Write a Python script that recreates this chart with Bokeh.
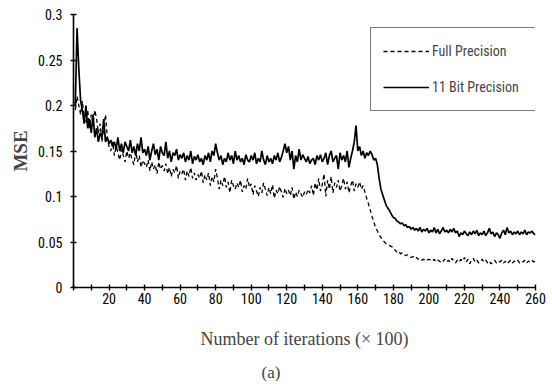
from bokeh.plotting import figure
from bokeh.models import FixedTicker, Legend, LegendItem, Title
from bokeh.embed import file_html
from bokeh.resources import INLINE

# iteration index (x 100)
iterations = list(range(1, 261))

bit11_precision = [
    0.200, 0.285, 0.240, 0.205, 0.195, 0.180, 0.200, 0.175, 0.185, 0.170,
    0.190, 0.165, 0.175, 0.160, 0.170, 0.165, 0.185, 0.160, 0.165, 0.158,
    0.162, 0.155, 0.160, 0.152, 0.165, 0.150, 0.158, 0.148, 0.160, 0.155,
    0.150, 0.162, 0.148, 0.155, 0.145, 0.158, 0.150, 0.165, 0.148, 0.152,
    0.145, 0.155, 0.140, 0.150, 0.158, 0.146, 0.152, 0.140, 0.155, 0.148,
    0.145, 0.160, 0.142, 0.150, 0.138, 0.148, 0.145, 0.152, 0.140, 0.146,
    0.142, 0.148, 0.138, 0.145, 0.140, 0.150, 0.136, 0.144, 0.140, 0.146,
    0.138, 0.142, 0.135, 0.145, 0.140, 0.148, 0.138, 0.150, 0.145, 0.158,
    0.148, 0.140, 0.145, 0.135, 0.142, 0.138, 0.148, 0.140, 0.145, 0.136,
    0.150, 0.140, 0.145, 0.138, 0.142, 0.135, 0.146, 0.140, 0.138, 0.145,
    0.140, 0.148, 0.136, 0.142, 0.138, 0.150, 0.140, 0.135, 0.145, 0.138,
    0.142, 0.136, 0.145, 0.140, 0.148, 0.138, 0.143, 0.150, 0.158, 0.148,
    0.155, 0.140, 0.150, 0.130, 0.145, 0.138, 0.152, 0.140, 0.146, 0.142,
    0.138, 0.144, 0.136, 0.140, 0.142, 0.135, 0.145, 0.140, 0.146, 0.138,
    0.142, 0.148, 0.135, 0.145, 0.150, 0.138, 0.142, 0.145, 0.130, 0.148,
    0.140, 0.145, 0.138, 0.150, 0.132, 0.142, 0.150, 0.160, 0.178, 0.150,
    0.155, 0.145, 0.150, 0.142, 0.148, 0.145, 0.150, 0.146, 0.140, 0.142,
    0.135, 0.120, 0.108, 0.102, 0.096, 0.090, 0.087, 0.084, 0.080, 0.077,
    0.076, 0.073, 0.072, 0.070, 0.071, 0.068, 0.069, 0.066, 0.067, 0.064,
    0.066, 0.063, 0.065, 0.062, 0.066, 0.061, 0.064, 0.062, 0.065, 0.060,
    0.063, 0.061, 0.066, 0.060, 0.064, 0.059, 0.062, 0.066, 0.061, 0.063,
    0.060, 0.064, 0.061, 0.065, 0.060, 0.062, 0.056, 0.060, 0.058, 0.062,
    0.059, 0.057, 0.061, 0.058, 0.062, 0.059, 0.063, 0.057, 0.060, 0.058,
    0.062, 0.057, 0.060, 0.065, 0.059, 0.061, 0.056, 0.060, 0.058, 0.054,
    0.060, 0.063, 0.058, 0.066, 0.060, 0.062, 0.058, 0.061, 0.059, 0.062,
    0.058, 0.061, 0.059, 0.063, 0.058, 0.061, 0.060, 0.062, 0.059, 0.058,
]

full_precision = [
    0.195, 0.210, 0.200, 0.190, 0.205, 0.185, 0.180, 0.195, 0.175, 0.190,
    0.180, 0.195, 0.185, 0.170, 0.180, 0.160, 0.175, 0.190, 0.165, 0.155,
    0.150, 0.160, 0.145, 0.155, 0.148, 0.140, 0.152, 0.145, 0.138, 0.150,
    0.142, 0.148, 0.140, 0.135, 0.150, 0.138, 0.145, 0.132, 0.140, 0.136,
    0.132, 0.140, 0.128, 0.138, 0.130, 0.135, 0.125, 0.138, 0.130, 0.134,
    0.128, 0.136, 0.125, 0.132, 0.122, 0.130, 0.126, 0.134, 0.120, 0.128,
    0.125, 0.130, 0.118, 0.128, 0.122, 0.132, 0.120, 0.126, 0.118, 0.124,
    0.120, 0.128, 0.115, 0.124, 0.118, 0.126, 0.112, 0.122, 0.116, 0.130,
    0.120, 0.108, 0.118, 0.112, 0.122, 0.110, 0.116, 0.104, 0.118, 0.112,
    0.108, 0.115, 0.110, 0.118, 0.105, 0.112, 0.108, 0.120, 0.110, 0.114,
    0.102, 0.112, 0.106, 0.100, 0.110, 0.104, 0.115, 0.108, 0.101, 0.110,
    0.103, 0.113, 0.098, 0.107, 0.103, 0.111, 0.105, 0.099, 0.109, 0.103,
    0.107, 0.101, 0.110, 0.097, 0.105, 0.100, 0.107, 0.103, 0.099, 0.105,
    0.102, 0.108, 0.104, 0.112, 0.101, 0.115, 0.107, 0.120, 0.106, 0.113,
    0.125, 0.100, 0.118, 0.108, 0.122, 0.104, 0.115, 0.110, 0.118, 0.106,
    0.112, 0.120, 0.108, 0.116, 0.104, 0.112, 0.118, 0.106, 0.114, 0.110,
    0.116, 0.108, 0.112, 0.105, 0.098, 0.092, 0.085, 0.078, 0.072, 0.066,
    0.062, 0.058, 0.055, 0.052, 0.050, 0.048, 0.047, 0.046, 0.045, 0.044,
    0.041, 0.039, 0.040, 0.037, 0.038, 0.036, 0.035, 0.036, 0.034, 0.033,
    0.034, 0.032, 0.033, 0.031, 0.032, 0.030, 0.031, 0.029, 0.030, 0.031,
    0.030, 0.029, 0.031, 0.028, 0.030, 0.029, 0.027, 0.029, 0.031, 0.028,
    0.030, 0.028, 0.032, 0.029, 0.027, 0.030, 0.028, 0.031, 0.029, 0.033,
    0.028, 0.031, 0.026, 0.030, 0.032, 0.028, 0.030, 0.027, 0.029, 0.031,
    0.028, 0.030, 0.027, 0.029, 0.026, 0.028, 0.030, 0.027, 0.029, 0.028,
    0.030, 0.027, 0.029, 0.026, 0.028, 0.030, 0.027, 0.029, 0.028, 0.030,
    0.027, 0.029, 0.028, 0.030, 0.027, 0.029, 0.028, 0.030, 0.028, 0.029,
]

x_ticks = [0, 10, 20, 30, 40, 50, 60, 70, 80, 90, 100, 110, 120, 130,
           140, 150, 160, 170, 180, 190, 200, 210, 220, 230, 240, 250, 260]
x_tick_labels = ["", "", "20", "", "40", "", "60", "", "80", "", "100", "",
                 "120", "", "140", "", "160", "", "180", "", "200", "",
                 "220", "", "240", "", "260"]
y_ticks = [0, 0.05, 0.1, 0.15, 0.2, 0.25, 0.3]
y_tick_labels = ["0", "0.05", "0.1", "0.15", "0.2", "0.25", "0.3"]

series_names = ["Full Precision", "11 Bit Precision"]
caption = "(a)"

TICK_FONT = "'Roboto Condensed', 'Liberation Sans Narrow', 'Liberation Sans', sans-serif"
SERIF = "'Liberation Serif', 'DejaVu Serif', serif"

p = figure(width=552, height=386, x_range=(0, 260), y_range=(0, 0.3),
           output_backend="svg", toolbar_location=None,
           min_border_left=73, min_border_right=17, min_border_top=14,
           min_border_bottom=99)

p.outline_line_color = None
p.xgrid.grid_line_color = None
p.ygrid.grid_line_color = None
p.background_fill_color = "white"
p.border_fill_color = "white"

r_full = p.line(iterations, full_precision, line_color="black", line_width=1.3,
                line_dash="4 3")
r_bit = p.line(iterations, bit11_precision, line_color="black", line_width=1.7)

for ax in (p.xaxis[0], p.yaxis[0]):
    ax.axis_line_color = "black"
    ax.axis_line_width = 1.6
    ax.major_tick_line_color = "black"
    ax.major_tick_line_width = 1.4
    ax.major_tick_in = 3
    ax.major_tick_out = 3
    ax.minor_tick_line_color = None
    ax.major_label_text_font = TICK_FONT
    ax.major_label_text_font_size = "14px"
    ax.major_label_text_color = "black"

p.xaxis.ticker = FixedTicker(ticks=x_ticks)
p.xaxis.major_label_overrides = {t: l for t, l in zip(x_ticks, x_tick_labels)}
p.xaxis.major_label_standoff = 2
p.xaxis.axis_label = "Number of iterations (\u00d7 100)"
p.xaxis.axis_label_text_font = SERIF
p.xaxis.axis_label_text_font_style = "normal"
p.xaxis.axis_label_text_font_size = "18px"
p.xaxis.axis_label_standoff = 22

p.yaxis.ticker = FixedTicker(ticks=y_ticks)
p.yaxis.major_label_overrides = {t: l for t, l in zip(y_ticks, y_tick_labels)}
p.yaxis.major_label_standoff = 8
p.yaxis.axis_label = "MSE"
p.yaxis.axis_label_text_font = SERIF
p.yaxis.axis_label_text_font_style = "bold"
p.yaxis.axis_label_text_font_size = "19px"
p.yaxis.axis_label_standoff = 4

legend = Legend(items=[LegendItem(label=series_names[0], renderers=[r_full]),
                       LegendItem(label=series_names[1], renderers=[r_bit])],
                location=(297, 176))
legend.border_line_color = "black"
legend.border_line_width = 1
legend.background_fill_color = "white"
legend.background_fill_alpha = 1
legend.label_text_font = TICK_FONT
legend.label_text_font_size = "14px"
legend.glyph_width = 46
legend.label_standoff = 3
legend.label_width = 91
legend.label_height = 22
legend.glyph_height = 22
legend.spacing = 14
legend.padding = 12
legend.margin = 0
p.add_layout(legend)

# spacer above the caption, then the caption itself
p.add_layout(Title(text=" ", text_font_size="2px", standoff=2), "below")
p.add_layout(Title(text=caption, align="left", offset=188, text_font=SERIF,
                   text_font_size="17px", text_font_style="normal",
                   standoff=6), "below")

open("out.html", "w").write(file_html(p, INLINE))
